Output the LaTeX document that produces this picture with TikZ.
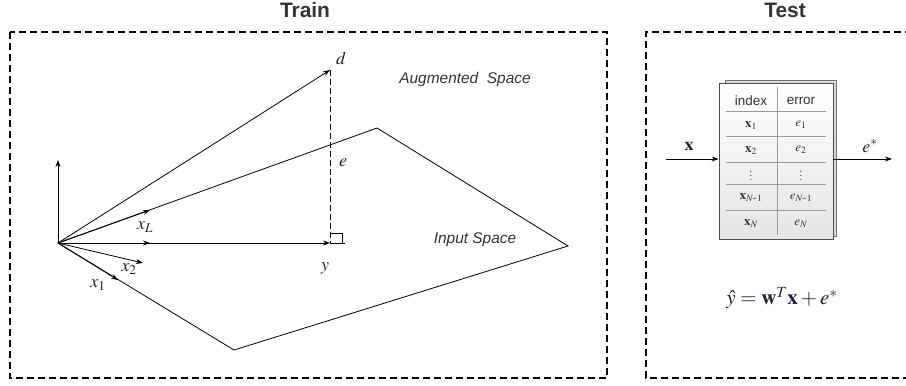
\documentclass[tikz,border=0pt]{standalone}
\usepackage{mathptmx}
\usepackage{fontspec}
\setsansfont{Liberation Sans}
\usetikzlibrary{arrows.meta}
\definecolor{lbl}{HTML}{1E1E3C}
\definecolor{txt}{HTML}{333333}
\tikzset{
 frame/.style={line width=1.4bp, dash pattern=on 7bp off 4bp, draw=black},
 vec/.style={line width=0.8bp, -{Stealth[length=7bp,width=5bp]}},
 edgeline/.style={line width=0.8bp},
 mlabel/.style={text=lbl, font=\fontsize{18}{20}\selectfont, inner sep=0},
 spacelbl/.style={text=txt, font=\sffamily\itshape\fontsize{15.5}{18}\selectfont, inner sep=0},
 titlelbl/.style={text=txt, font=\sffamily\bfseries\fontsize{21}{24}\selectfont, inner sep=0},
 cell/.style={font=\fontsize{13}{15}\selectfont, inner sep=0, text=txt},
 hdr/.style={font=\sffamily\fontsize{13.5}{15}\selectfont, inner sep=0, text=txt},
 grid/.style={draw=black!40, line width=0.8bp},
}
\begin{document}
\begin{tikzpicture}[x=1bp,y=-1bp]
\useasboundingbox[fill=white] (0,0) rectangle (906,385);
% titles
\node[titlelbl] (train) at (305,10) {Train};
\node[titlelbl] (test) at (785,10) {Test};
% frames
\draw[frame] (10,32) rectangle (607,378);
\draw[frame] (912,32) -- (646,32) -- (646,378) -- (912,378);
% train geometry
\coordinate (O) at (58,243);
\coordinate (up) at (58,160);
\coordinate (D) at (330,70);
\coordinate (Y) at (330,243);
\coordinate (P1) at (377,128);
\coordinate (P2) at (568,246);
\coordinate (P3) at (234,350);
\coordinate (XL) at (150,210);
\coordinate (X1) at (118,280);
\coordinate (X2) at (143,263);
\coordinate (XM) at (150,243);
\coordinate (Ytail) at (345,243);
\draw[edgeline] (O) -- (P1) -- (P2) -- (P3) -- cycle;
\draw[vec] (O) -- (up);
\draw[vec] (O) -- (D);
\draw[vec] (O) -- (Y);
\draw[vec] (O) -- (XL);
\draw[vec] (O) -- (X1);
\draw[vec] (O) -- (X2);
\draw[vec] (O) -- (XM);
\draw[line width=0.8bp, dash pattern=on 6bp off 3bp] (D) -- (Y);
\draw[edgeline] (Y) -- (Ytail);
\draw[edgeline] (330,233) -- (342,233) -- (342,243);
% labels
\node[mlabel] (ld) at (341,58) {$d$};
\node[mlabel] (le) at (343,163) {$e$};
\node[mlabel] (ly) at (325,268) {$y$};
\node[mlabel] (lxL) at (145,227) {$x_L$};
\node[mlabel] (lx2) at (129,269) {$x_2$};
\node[mlabel] (lx1) at (98,285) {$x_1$};
\node[spacelbl] (aug) at (465,80) {Augmented\ \ Space};
\node[spacelbl] (inp) at (475,240) {Input Space};
% test table
\filldraw[fill=black!15, draw=black!55, line width=0.8bp] (725,80) rectangle (836,236);
\node[draw=black!70, line width=0.8bp, top color=white, bottom color=black!10,
      minimum width=114bp, minimum height=156bp, inner sep=0] (tbl) at (776,161) {};
\foreach \yy in {111,136,162,184,210} \draw[grid] (726,\yy) -- (826,\yy);
\draw[grid] (777,87) -- (777,235);
\node[hdr] (h1) at (751,101) {index};
\node[hdr] (h2) at (801,101) {error};
\node[cell] (a1) at (751,125) {$\mathbf{x}_1$};
\node[cell] (b1) at (801,125) {$e_1$};
\node[cell] (a2) at (751,150) {$\mathbf{x}_2$};
\node[cell] (b2) at (801,150) {$e_2$};
\node[cell] (a3) at (751,173) {$\vdots$};
\node[cell] (b3) at (801,173) {$\vdots$};
\node[cell] (a4) at (751,198) {$\mathbf{x}_{N\mbox{-}1}$};
\node[cell] (b4) at (801,198) {$e_{N\mbox{-}1}$};
\node[cell] (a5) at (751,224) {$\mathbf{x}_N$};
\node[cell] (b5) at (801,224) {$e_N$};
\coordinate (xin) at (666,159);
\coordinate (eout) at (892,159);
\draw[vec] (xin) -- (xin -| tbl.west);
\draw[vec] (xin -| tbl.east) -- (eout);
\node[mlabel] (lx) at (689,146) {$\mathbf{x}$};
\node[mlabel] (les) at (870,146) {$e^*$};
\node[mlabel, font=\fontsize{21}{24}\selectfont] (formula) at (782,298) {$\hat{y}=\mathbf{w}^T\mathbf{x}+e^*$};
\end{tikzpicture}
\end{document}
